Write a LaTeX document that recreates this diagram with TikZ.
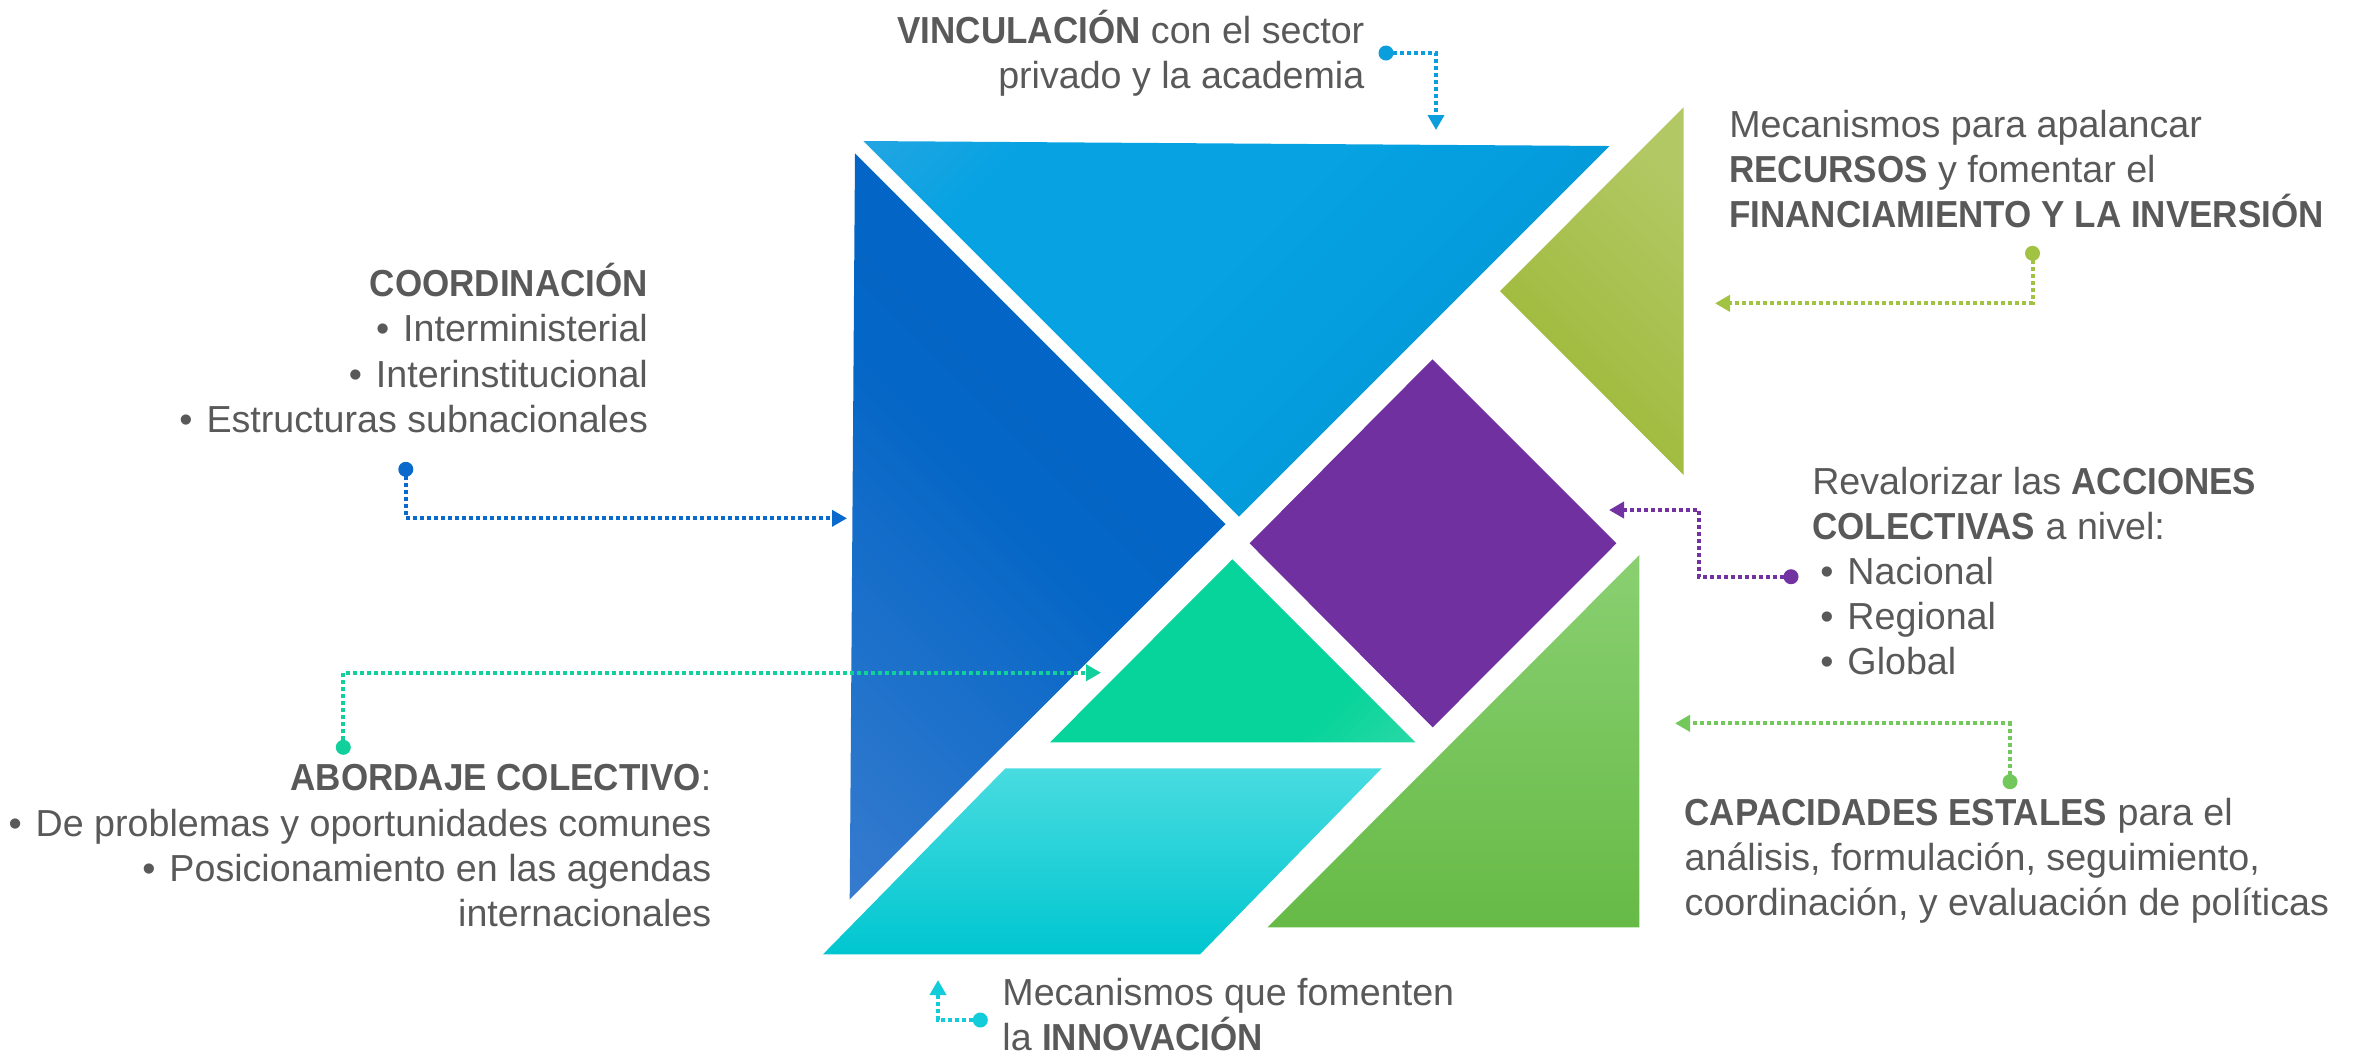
\documentclass[tikz,border=0pt]{standalone}
\usepackage{fontspec}
\setmainfont{Liberation Sans}[BoldFeatures={FakeStretch=0.93}]
\usetikzlibrary{arrows.meta}
\definecolor{txtgray}{HTML}{595959}
\definecolor{lightA}{HTML}{4AAAE2}
\definecolor{lightB}{HTML}{06A2E2}
\definecolor{lightC}{HTML}{0090D0}
\definecolor{darkA}{HTML}{0060C0}
\definecolor{darkB}{HTML}{0466C6}
\definecolor{darkC}{HTML}{4A84D2}
\definecolor{oliveA}{HTML}{B2C864}
\definecolor{oliveB}{HTML}{9CB834}
\definecolor{purpleA}{HTML}{7130A0}
\definecolor{tealA}{HTML}{00C88E}
\definecolor{tealB}{HTML}{06D49A}
\definecolor{tealC}{HTML}{4ADCB0}
\definecolor{cyanA}{HTML}{48DCE0}
\definecolor{cyanB}{HTML}{02D6E0}
\definecolor{cyanC}{HTML}{00C6D0}
\definecolor{greenA}{HTML}{8AD072}
\definecolor{greenB}{HTML}{74C658}
\definecolor{greenC}{HTML}{66BA46}
\definecolor{vincCol}{HTML}{0A9EDC}
\definecolor{coordCol}{HTML}{0A6ACC}
\definecolor{abCol}{HTML}{12D09C}
\definecolor{recCol}{HTML}{A2C244}
\definecolor{accCol}{HTML}{7232A2}
\definecolor{capCol}{HTML}{72C85A}
\definecolor{innCol}{HTML}{12CCDA}
\pgfdeclareverticalshading{lightshade}{100bp}{color(0bp)=(lightC); color(30bp)=(lightC!60!lightB);
    color(55bp)=(lightB); color(75bp)=(lightB); color(100bp)=(lightA)}
\pgfdeclareverticalshading{darkshade}{100bp}{color(0bp)=(darkC); color(30bp)=(darkB!60!darkC);
    color(50bp)=(darkB); color(100bp)=(darkA)}
\pgfdeclareverticalshading{tealshade}{100bp}{color(0bp)=(tealC); color(30bp)=(tealB);
    color(70bp)=(tealB); color(100bp)=(tealA)}
\newcommand{\bul}{•\hspace{0.14cm}}

\begin{document}
\begin{tikzpicture}[x=0.01cm,y=-0.01cm,
    label text/.style={inner sep=0pt,text=txtgray,font=\fontsize{10.7pt}{12.8pt}\selectfont},
    left text/.style={label text,anchor=base east,align=right},
    right text/.style={label text,anchor=base west,align=left},
    link/.style={draw=#1,line width=0.04cm,dash pattern=on 0.04cm off 0.03cm,
        -{Triangle[length=0.15cm,width=0.16cm]}},
    linkdot/.style={fill=#1}]
\useasboundingbox (0,0) rectangle (2354,1053);

\shade[shading=lightshade,shading angle=45]
    (863.4,141) -- (1609.6,146) -- (1239,516.7) -- cycle;
\shade[shading=darkshade,shading angle=-45]
    (855,153.3) -- (1225.5,524) -- (849.7,899.3) -- cycle;
\shade[top color=oliveA,bottom color=oliveB,shading angle=-45]
    (1683.6,107.3) -- (1683.6,475) -- (1500,291) -- cycle;
\fill[purpleA] (1432.5,359.3) -- (1616.4,543.3) -- (1432.7,727.3) -- (1249.6,543.3) -- cycle;
\shade[shading=tealshade,shading angle=45]
    (1232.4,559.3) -- (1415.5,742.3) -- (1050,742.3) -- cycle;
\shade[top color=cyanA,middle color=cyanB,bottom color=cyanC]
    (1005.4,768.3) -- (1381.7,768.3) -- (1200,954.3) -- (823,954.3) -- cycle;
\shade[top color=greenA,middle color=greenB,bottom color=greenC]
    (1639.4,555) -- (1639.4,927.3) -- (1267.5,927.3) -- cycle;

\node[left text] (vinc) at (1365,88)
    {\textbf{VINCULACIÓN} con el sector\\privado y la academia};
\node[left text] (coord) at (648.6,432)
    {\textbf{COORDINACIÓN}\\\bul Interministerial\\\bul Interinstitucional\\\bul Estructuras subnacionales};
\node[left text] (abordaje) at (712,926)
    {\textbf{ABORDAJE COLECTIVO}:\\\bul De problemas y oportunidades comunes\\\bul Posicionamiento en las agendas\\internacionales};
\node[right text] (recursos) at (1728.6,227.7)
    {Mecanismos para apalancar\\\textbf{RECURSOS} y fomentar el\\\textbf{FINANCIAMIENTO Y LA INVERSIÓN}};
\node[right text] (acciones) at (1811.6,674.3)
    {Revalorizar las \textbf{ACCIONES}\\\textbf{COLECTIVAS} a nivel:\\\hspace*{0.08cm}\bul Nacional\\\hspace*{0.08cm}\bul Regional\\\hspace*{0.08cm}\bul Global};
\node[right text] (capacidades) at (1684,915)
    {\textbf{CAPACIDADES ESTALES} para el\\análisis, formulación, seguimiento,\\coordinación, y evaluación de políticas};
\node[right text] (innovacion) at (1001.7,1050)
    {Mecanismos que fomenten\\la \textbf{INNOVACIÓN}};

\coordinate (vincDot) at (1386,53);
\coordinate (vincTip) at (1436,130);
\coordinate (coordDot) at (405.8,469.3);
\coordinate (coordTip) at (847,518.3);
\coordinate (abDot) at (343.3,747.3);
\coordinate (abTip) at (1101,672.7);
\coordinate (recDot) at (2032.5,253.3);
\coordinate (recTip) at (1715,303.3);
\coordinate (accDot) at (1791,576.7);
\coordinate (accKnee) at (1698.6,510);
\coordinate (accTip) at (1609,510);
\coordinate (capDot) at (2010,781.7);
\coordinate (capTip) at (1675,723.3);
\coordinate (innDot) at (980.3,1020);
\coordinate (innTip) at (938,980);

\draw[link=vincCol] (vincDot) -| (vincTip);
\draw[link=coordCol] (coordDot) |- (coordTip);
\draw[link=abCol] (abDot) |- (abTip);
\draw[link=recCol] (recDot) |- (recTip);
\draw[link=accCol] (accDot) -| (accKnee) -- (accTip);
\draw[link=capCol] (capDot) |- (capTip);
\draw[link=innCol] (innDot) -| (innTip);

\fill[linkdot=vincCol] (vincDot) circle[radius=0.075cm];
\fill[linkdot=coordCol] (coordDot) circle[radius=0.075cm];
\fill[linkdot=abCol] (abDot) circle[radius=0.075cm];
\fill[linkdot=recCol] (recDot) circle[radius=0.075cm];
\fill[linkdot=accCol] (accDot) circle[radius=0.075cm];
\fill[linkdot=capCol] (capDot) circle[radius=0.075cm];
\fill[linkdot=innCol] (innDot) circle[radius=0.075cm];
\end{tikzpicture}
\end{document}
